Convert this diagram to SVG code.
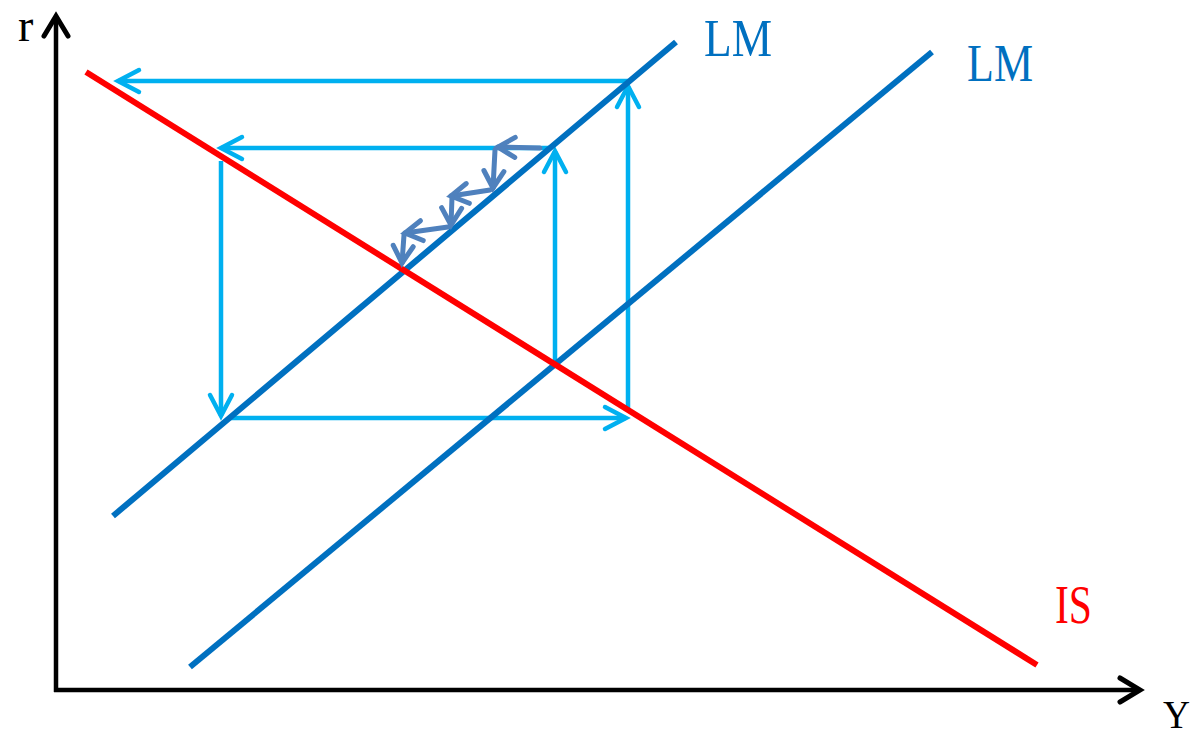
<svg xmlns="http://www.w3.org/2000/svg" width="1190" height="738" viewBox="0 0 1190 738">
<style>
.axis{stroke:#000;stroke-width:4.5;fill:none}
.lm{stroke:#0070C0;stroke-width:6;fill:none;stroke-linecap:butt}
.is{stroke:#FF0000;stroke-width:6;fill:none}
.lb{stroke:#00B0F0;stroke-width:4.5;fill:none;marker-end:url(#hLb)}
.dk{stroke:#4F81BD;stroke-width:5;fill:none;stroke-linecap:round;marker-end:url(#hDk)}
.lbl{font-family:"Liberation Serif","Times New Roman",serif}
</style>
<defs>
<marker id="hAx" markerUnits="userSpaceOnUse" orient="auto" markerWidth="40" markerHeight="40" refX="0" refY="0" viewBox="-30 -20 40 40" overflow="visible">
<path d="M-20,-12 L0,0 L-20,12" stroke="#000" stroke-width="5" fill="none" stroke-linecap="round" stroke-linejoin="miter"/>
</marker>
<marker id="hLb" markerUnits="userSpaceOnUse" orient="auto" markerWidth="40" markerHeight="40" refX="0" refY="0" viewBox="-30 -20 40 40" overflow="visible">
<path d="M-21,-11 L0,0 L-21,11" stroke="#00B0F0" stroke-width="4.5" fill="none" stroke-linecap="round"/>
</marker>
<marker id="hDk" markerUnits="userSpaceOnUse" orient="auto" markerWidth="40" markerHeight="40" refX="0" refY="0" viewBox="-30 -20 40 40" overflow="visible">
<path d="M-17,-10 L0,0 L-17,10" stroke="#4F81BD" stroke-width="5" fill="none" stroke-linecap="round"/>
</marker>
</defs>
<g id="axes">
<path class="axis" d="M56,692 L56,16" marker-end="url(#hAx)"/>
<path class="axis" d="M54,690 L1140,690" marker-end="url(#hAx)"/>
</g>
<g id="connectors">
<path class="lb" d="M628,81 L118,81"/>
<path class="lb" d="M628,410 L628,86"/>
<path class="lb" d="M550,148 L221,148"/>
<path class="lb" d="M221,161 L221,416"/>
<path class="lb" d="M229,418 L626,418"/>
<path class="lb" d="M555,365 L555,151"/>
</g>
<g id="LM1"><path class="lm" d="M113,516 L676,42"/></g>
<g id="LM2"><path class="lm" d="M190,667 L932,52"/></g>
<g id="IS"><path class="is" d="M86,72 L1037,665"/></g>
<g id="steps">
<path class="dk" d="M540,148 L498,147"/>
<path class="dk" d="M495,150 L493,188"/>
<path class="dk" d="M490,190 L451,196"/>
<path class="dk" d="M452,197 L451,225"/>
<path class="dk" d="M448,227 L405,233"/>
<path class="dk" d="M404,235 L402,263"/>
</g>
<g id="labels">
<text class="lbl" x="18" y="41" font-size="46">r</text>
<text class="lbl" x="1163" y="728" font-size="40" textLength="27" lengthAdjust="spacingAndGlyphs">Y</text>
<text class="lbl" x="704" y="56" font-size="53" fill="#0070C0" textLength="68" lengthAdjust="spacingAndGlyphs">LM</text>
<text class="lbl" x="967" y="81" font-size="52" fill="#0070C0" textLength="66" lengthAdjust="spacingAndGlyphs">LM</text>
<text class="lbl" x="1055" y="623" font-size="54" fill="#FF0000" textLength="37" lengthAdjust="spacingAndGlyphs">IS</text>
</g>
</svg>
